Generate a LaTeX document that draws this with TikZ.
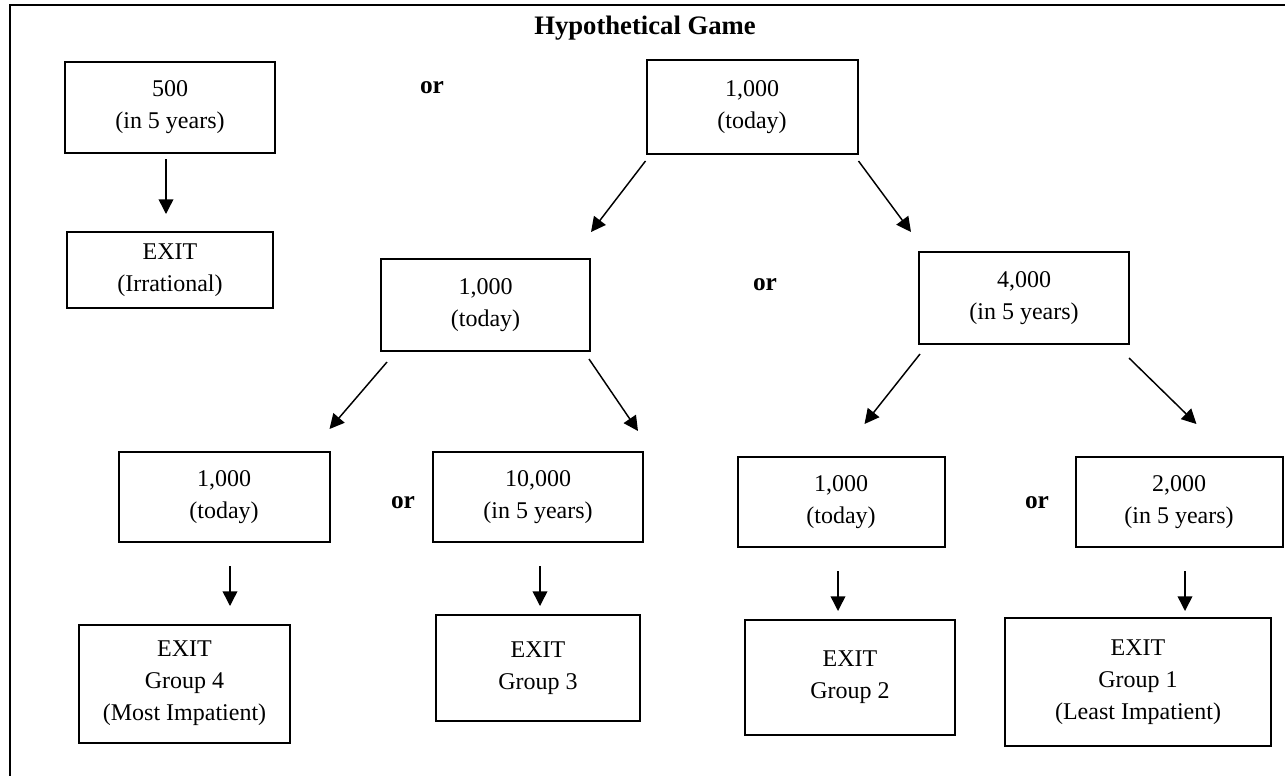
\documentclass[tikz,border=0pt]{standalone}
\usepackage{fontspec}
\setmainfont{Liberation Serif}
\usetikzlibrary{positioning,calc,arrows.meta}
\tikzset{
  choice/.style={draw, line width=1.5pt, align=center, inner sep=2pt,
    font=\fontsize{18}{24}\selectfont, minimum height=92*0.75pt},
  size/.style 2 args={minimum width=#1*0.75pt, minimum height=#2*0.75pt},
  orlabel/.style={font=\bfseries\fontsize{19}{24}\selectfont},
  arr/.style={line width=1.1pt, -{Triangle[length=11pt,width=11pt]}}
}
\begin{document}
\begin{tikzpicture}[x=0.75pt,y=-0.75pt]
	\useasboundingbox (0,0) rectangle (1285,775);
	%Rahmen
	\draw[line width=1.7pt] (10,5) rectangle (1320,800);
	\node[font=\bfseries\fontsize{20}{24}\selectfont] (title) at (645,28) {Hypothetical Game};
	%erste Zeile
	\node[choice, size={210}{91}] (A) at (170,107.5) {500\\(in 5 years)};
	\node[choice, size={206}{76}] (IR) at (170,270) {EXIT\\(Irrational)};
	\node[orlabel] (or1) at (432,88) {or};
	\node[choice, size={211}{94}] (T) at (752,107) {1,000\\(today)};
	%zweite Zeile
	\node[choice, size={209}{92}] (ML) at (485.5,305) {1,000\\(today)};
	\node[orlabel] (or2) at (765,285) {or};
	\node[choice, size={210}{92}] (MR) at (1024,298) {4,000\\(in 5 years)};
	%dritte Zeile
	\node[choice, size={211}{90}] (B1) at (224,497) {1,000\\(today)};
	\node[orlabel] (or3) at (403,503) {or};
	\node[choice, size={210}{90}] (B2) at (538,497) {10,000\\(in 5 years)};
	\node[choice, size={207}{90}] (B3) at (841,502) {1,000\\(today)};
	\node[orlabel] (or4) at (1037,503) {or};
	\node[choice, size={207}{90}] (B4) at (1179,502) {2,000\\(in 5 years)};
	%Ausgaenge
	\node[choice, size={211}{118}] (E4) at (184.5,683.5) {EXIT\\Group 4\\(Most Impatient)};
	\node[choice, size={204}{106}] (E3) at (538,668) {EXIT\\Group 3};
	\node[choice, size={210}{115}] (E2) at (850,677) {EXIT\\Group 2};
	\node[choice, size={266}{128}] (E1) at (1138,682) {EXIT\\Group 1\\(Least Impatient)};
	%Pfeile
	\draw[arr] ($(A.south)+(-4,5)$) -- ($(IR.north)+(-4,-17)$);
	\draw[arr] ($(T.south west)+(0,6)$) -- ($(ML.north east)+(0,-26)$);
	\draw[arr] ($(T.south east)+(0,6)$) -- ($(MR.north west)+(-7,-19)$);
	\draw[arr] ($(ML.south west)+(7,10)$) -- ($(B1.north east)+(-1,-22)$);
	\draw[arr] ($(ML.south east)+(-2,7)$) -- ($(B2.north east)+(-6,-20)$);
	\draw[arr] ($(MR.south west)+(2,9)$) -- ($(B3.north west)+(128,-32)$);
	\draw[arr] ($(MR.south east)+(-1,13)$) -- ($(B4.north east)+(-87,-32)$);
	\foreach \a/\b/\dx in {B1/E4/6, B2/E3/2, B3/E2/-3, B4/E1/6}
		\draw[arr] ($(\a.south)+(\dx,23)$) -- ($(\a.south)+(\dx,63)$);
\end{tikzpicture}
\end{document}
